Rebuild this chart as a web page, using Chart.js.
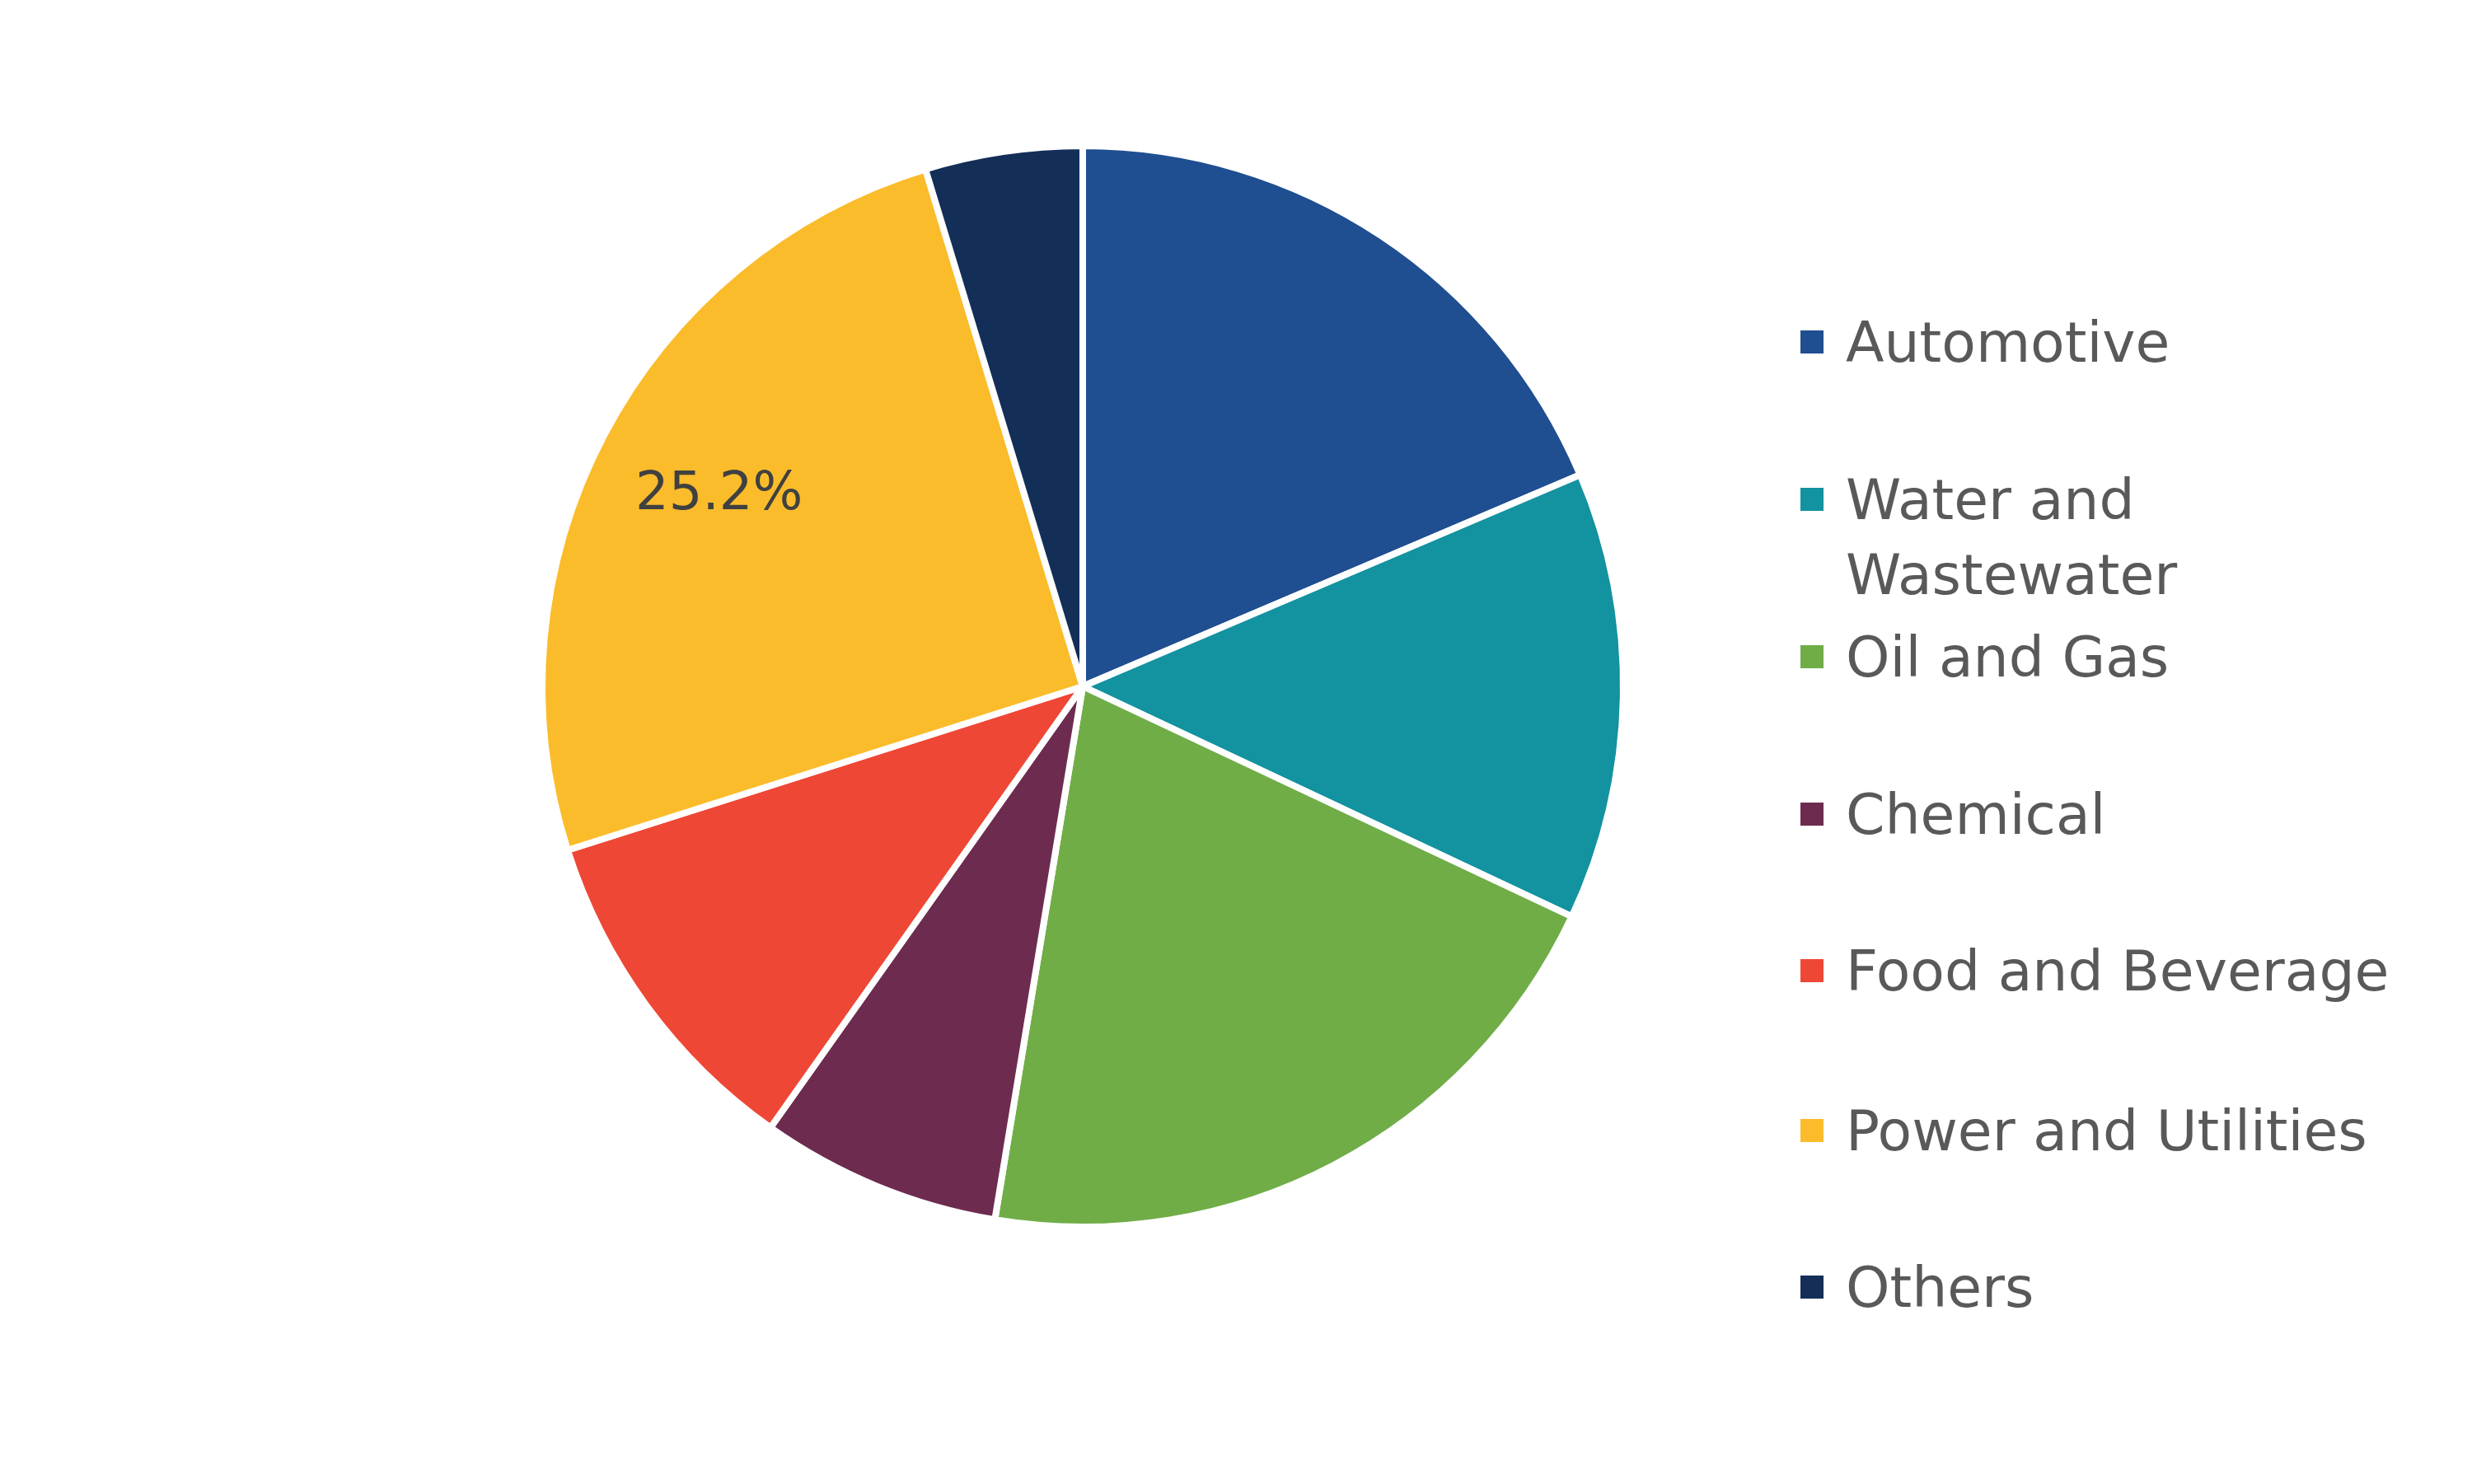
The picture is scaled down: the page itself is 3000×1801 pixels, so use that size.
<!DOCTYPE html>
<html><head><meta charset="utf-8">
<script src="https://cdn.jsdelivr.net/npm/chart.js@4/dist/chart.umd.min.js"></script>
<style>
body{margin:0;background:#fff;width:3000px;height:1801px;overflow:hidden;position:relative;font-family:"DejaVu Sans",sans-serif}
#c{position:absolute;left:0;top:0}
.li{position:absolute;left:2185px;color:#595959;font-size:68px;line-height:91px;white-space:nowrap}
.sq{position:absolute;left:0;width:28px;height:28px}
.tx{position:absolute;left:55px;top:0}
</style></head><body>
<canvas id="c" width="3000" height="1801"></canvas>
<script>
const categories=["Automotive","Water and Wastewater","Oil and Gas","Chemical","Food and Beverage","Power and Utilities","Others"];
const legendLines=[["Automotive"],["Water and","Wastewater"],["Oil and Gas"],["Chemical"],["Food and Beverage"],["Power and Utilities"],["Others"]];
const shares=[18.6,13.4,20.6,7.2,10.3,25.2,4.7];
const colors=["#1f4e91","#1392a0","#70ad47","#6d2c4f","#ef4736","#fbbc2b","#132e57"];
const labelIndex=5;
const legendCenters=[415,652,797,988,1178,1372,1562];

const labelPlugin={id:'lbl',afterDatasetsDraw(ch){
  const arc=ch.getDatasetMeta(0).data[labelIndex];
  const p=arc.getProps(['x','y','startAngle','endAngle','outerRadius']);
  const a=(p.startAngle+p.endAngle)/2, r=p.outerRadius*0.76;
  const c=ch.ctx;c.save();c.font='64px "DejaVu Sans"';c.fillStyle='#404040';
  c.textAlign='center';c.textBaseline='middle';
  c.fillText(shares[labelIndex].toFixed(1)+'%',p.x+Math.cos(a)*r,p.y+Math.sin(a)*r);c.restore();
}};
new Chart(document.getElementById('c'),{type:'pie',
 data:{labels:categories,datasets:[{data:shares,backgroundColor:colors,borderColor:'#fff',borderWidth:8}]},
 options:{responsive:false,animation:false,devicePixelRatio:1,
  layout:{padding:{left:654,right:1026,top:173,bottom:308}},
  plugins:{legend:{display:false},tooltip:{enabled:false}}},
 plugins:[labelPlugin]});
categories.forEach((c,i)=>{
  const lines=legendLines[i];const h=lines.length*91;
  const d=document.createElement('div');d.className='li';
  d.style.top=(legendCenters[i]-h/2)+'px';d.style.height=h+'px';
  d.innerHTML='<div class="sq" style="background:'+colors[i]+';top:31px"></div><div class="tx">'+lines.join('<br>')+'</div>';
  document.body.appendChild(d);
});
</script></body></html>
